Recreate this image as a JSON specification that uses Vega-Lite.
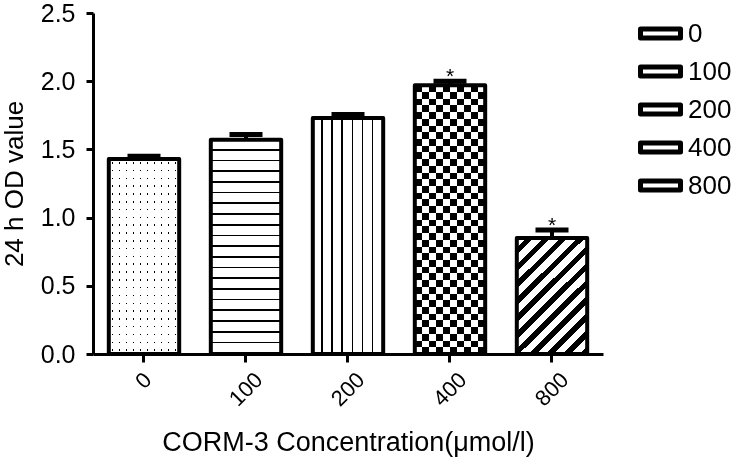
{
  "$schema": "https://vega.github.io/schema/vega-lite/v6.json",
  "autosize": {"type": "none"},
  "padding": {"left": 93, "top": 13, "right": 132, "bottom": 115},
  "width": 510,
  "height": 341,
  "background": "white",
  "config": {
    "font": "Liberation Sans",
    "view": {"stroke": null},
    "axis": {
      "domainColor": "black", "domainWidth": 3, "tickColor": "black", "tickWidth": 3, "tickSize": 8,
      "labelColor": "black", "labelFont": "Liberation Sans",
      "titleColor": "black", "titleFontSize": 26, "titleFontWeight": "normal", "titleFont": "Liberation Sans",
      "grid": false
    }
  },
  "data": {
    "values": [
      {"conc": "0", "value": 1.43, "upper": 1.45, "sig": ""},
      {"conc": "100", "value": 1.57, "upper": 1.61, "sig": ""},
      {"conc": "200", "value": 1.73, "upper": 1.755, "sig": ""},
      {"conc": "400", "value": 1.97, "upper": 2.0, "sig": "*"},
      {"conc": "800", "value": 0.85, "upper": 0.91, "sig": "*"}
    ]
  },
  "encoding": {
    "x": {
      "field": "conc", "type": "nominal", "sort": null,
      "scale": {"paddingInner": 0.31, "paddingOuter": 0.155, "align": 0.5},
      "axis": {"title": "CORM-3 Concentration(μmol/l)", "titleFontSize": 27, "labelAngle": -45, "labelFontSize": 22,
        "labelAlign": "right", "labelBaseline": "middle", "labelPadding": 14,
        "labelOffset": {"condition": {"test": "datum.value === '0'", "value": 4}, "value": 13},
        "titlePadding": 20}
    },
    "y": {"field": "value", "type": "quantitative", "scale": {"domain": [0, 2.5], "nice": false},
      "axis": {"title": "24 h OD value", "values": [0, 0.5, 1, 1.5, 2, 2.5], "format": ".1f", "labelFontSize": 25, "tickSize": 7, "labelPadding": 11, "titlePadding": 13}}
  },
  "layer": [
    {
      "mark": {"type": "bar", "strokeWidth": 0},
      "encoding": {
        "fill": {
          "field": "conc", "type": "nominal", "sort": null,
          "scale": {"domain": ["0", "100", "200", "400", "800"], "range": ["white", "white", "white", "white", "white"]},
          "legend": {
            "title": null, "orient": "none", "legendX": 545, "legendY": -2, "padding": 0,
            "symbolType": "M-1,-0.22H1V0.22H-1Z", "symbolSize": 1600,
            "labelFontSize": 26, "labelColor": "black", "labelFont": "Liberation Sans", "labelOffset": 5, "rowPadding": 2,
            "encode": {"symbols": {"update": {
              "stroke": {"value": "black"}, "strokeWidth": {"value": 5}, "strokeJoin": {"value": "round"}, "opacity": {"value": 1}
            }}}
          }
        }
      }
    },
    {
      "transform": [{"filter": "datum.conc === '0'"}],
      "mark": {"type": "bar", "strokeWidth": 0, "fill": {"gradient": "linear", "x1": 0, "y1": 0, "x2": 1, "y2": 0, "stops": [
        {"offset": 0, "color": "white"}, {"offset": 0.04, "color": "white"}, {"offset": 0.04, "color": "black"}, {"offset": 0.06, "color": "black"}, {"offset": 0.06, "color": "white"},
        {"offset": 0.14, "color": "white"}, {"offset": 0.14, "color": "black"}, {"offset": 0.16, "color": "black"}, {"offset": 0.16, "color": "white"},
        {"offset": 0.24, "color": "white"}, {"offset": 0.24, "color": "black"}, {"offset": 0.26, "color": "black"}, {"offset": 0.26, "color": "white"},
        {"offset": 0.34, "color": "white"}, {"offset": 0.34, "color": "black"}, {"offset": 0.36, "color": "black"}, {"offset": 0.36, "color": "white"},
        {"offset": 0.44, "color": "white"}, {"offset": 0.44, "color": "black"}, {"offset": 0.46, "color": "black"}, {"offset": 0.46, "color": "white"},
        {"offset": 0.54, "color": "white"}, {"offset": 0.54, "color": "black"}, {"offset": 0.56, "color": "black"}, {"offset": 0.56, "color": "white"},
        {"offset": 0.64, "color": "white"}, {"offset": 0.64, "color": "black"}, {"offset": 0.66, "color": "black"}, {"offset": 0.66, "color": "white"},
        {"offset": 0.74, "color": "white"}, {"offset": 0.74, "color": "black"}, {"offset": 0.76, "color": "black"}, {"offset": 0.76, "color": "white"},
        {"offset": 0.84, "color": "white"}, {"offset": 0.84, "color": "black"}, {"offset": 0.86, "color": "black"}, {"offset": 0.86, "color": "white"},
        {"offset": 0.94, "color": "white"}, {"offset": 0.94, "color": "black"}, {"offset": 0.96, "color": "black"}, {"offset": 0.96, "color": "white"},
        {"offset": 1, "color": "white"}
      ]}}
    },
    {
      "transform": [{"filter": "datum.conc === '100'"}],
      "mark": {"type": "bar", "strokeWidth": 0, "fill": {"gradient": "linear", "x1": 0, "y1": 0, "x2": 0, "y2": 1, "stops": [
        {"offset": 0, "color": "white"}, {"offset": 0.042, "color": "white"}, {"offset": 0.042, "color": "black"}, {"offset": 0.05, "color": "black"}, {"offset": 0.05, "color": "white"},
        {"offset": 0.092, "color": "white"}, {"offset": 0.092, "color": "black"}, {"offset": 0.1, "color": "black"}, {"offset": 0.1, "color": "white"},
        {"offset": 0.142, "color": "white"}, {"offset": 0.142, "color": "black"}, {"offset": 0.15, "color": "black"}, {"offset": 0.15, "color": "white"},
        {"offset": 0.192, "color": "white"}, {"offset": 0.192, "color": "black"}, {"offset": 0.2, "color": "black"}, {"offset": 0.2, "color": "white"},
        {"offset": 0.242, "color": "white"}, {"offset": 0.242, "color": "black"}, {"offset": 0.25, "color": "black"}, {"offset": 0.25, "color": "white"},
        {"offset": 0.292, "color": "white"}, {"offset": 0.292, "color": "black"}, {"offset": 0.3, "color": "black"}, {"offset": 0.3, "color": "white"},
        {"offset": 0.342, "color": "white"}, {"offset": 0.342, "color": "black"}, {"offset": 0.35, "color": "black"}, {"offset": 0.35, "color": "white"},
        {"offset": 0.392, "color": "white"}, {"offset": 0.392, "color": "black"}, {"offset": 0.4, "color": "black"}, {"offset": 0.4, "color": "white"},
        {"offset": 0.442, "color": "white"}, {"offset": 0.442, "color": "black"}, {"offset": 0.45, "color": "black"}, {"offset": 0.45, "color": "white"},
        {"offset": 0.492, "color": "white"}, {"offset": 0.492, "color": "black"}, {"offset": 0.5, "color": "black"}, {"offset": 0.5, "color": "white"},
        {"offset": 0.542, "color": "white"}, {"offset": 0.542, "color": "black"}, {"offset": 0.55, "color": "black"}, {"offset": 0.55, "color": "white"},
        {"offset": 0.592, "color": "white"}, {"offset": 0.592, "color": "black"}, {"offset": 0.6, "color": "black"}, {"offset": 0.6, "color": "white"},
        {"offset": 0.642, "color": "white"}, {"offset": 0.642, "color": "black"}, {"offset": 0.65, "color": "black"}, {"offset": 0.65, "color": "white"},
        {"offset": 0.692, "color": "white"}, {"offset": 0.692, "color": "black"}, {"offset": 0.7, "color": "black"}, {"offset": 0.7, "color": "white"},
        {"offset": 0.742, "color": "white"}, {"offset": 0.742, "color": "black"}, {"offset": 0.75, "color": "black"}, {"offset": 0.75, "color": "white"},
        {"offset": 0.792, "color": "white"}, {"offset": 0.792, "color": "black"}, {"offset": 0.8, "color": "black"}, {"offset": 0.8, "color": "white"},
        {"offset": 0.842, "color": "white"}, {"offset": 0.842, "color": "black"}, {"offset": 0.85, "color": "black"}, {"offset": 0.85, "color": "white"},
        {"offset": 0.892, "color": "white"}, {"offset": 0.892, "color": "black"}, {"offset": 0.9, "color": "black"}, {"offset": 0.9, "color": "white"},
        {"offset": 0.942, "color": "white"}, {"offset": 0.942, "color": "black"}, {"offset": 0.95, "color": "black"}, {"offset": 0.95, "color": "white"},
        {"offset": 0.992, "color": "white"}, {"offset": 0.992, "color": "black"}, {"offset": 1, "color": "black"}
      ]}}
    },
    {
      "transform": [{"filter": "datum.conc === '200'"}],
      "mark": {"type": "bar", "strokeWidth": 0, "fill": {"gradient": "linear", "x1": 0, "y1": 0, "x2": 1, "y2": 0, "stops": [
        {"offset": 0, "color": "white"}, {"offset": 0.1214, "color": "white"}, {"offset": 0.1214, "color": "black"}, {"offset": 0.1429, "color": "black"}, {"offset": 0.1429, "color": "white"},
        {"offset": 0.2643, "color": "white"}, {"offset": 0.2643, "color": "black"}, {"offset": 0.2857, "color": "black"}, {"offset": 0.2857, "color": "white"},
        {"offset": 0.4071, "color": "white"}, {"offset": 0.4071, "color": "black"}, {"offset": 0.4286, "color": "black"}, {"offset": 0.4286, "color": "white"},
        {"offset": 0.55, "color": "white"}, {"offset": 0.55, "color": "black"}, {"offset": 0.5714, "color": "black"}, {"offset": 0.5714, "color": "white"},
        {"offset": 0.6929, "color": "white"}, {"offset": 0.6929, "color": "black"}, {"offset": 0.7143, "color": "black"}, {"offset": 0.7143, "color": "white"},
        {"offset": 0.8357, "color": "white"}, {"offset": 0.8357, "color": "black"}, {"offset": 0.8571, "color": "black"}, {"offset": 0.8571, "color": "white"},
        {"offset": 0.9786, "color": "white"}, {"offset": 0.9786, "color": "black"}, {"offset": 1, "color": "black"}
      ]}}
    },
    {
      "transform": [{"filter": "datum.conc === '400'"}],
      "mark": {"type": "bar", "strokeWidth": 0, "fill": {"gradient": "linear", "x1": 0, "y1": 0, "x2": 1, "y2": 0, "stops": [
        {"offset": 0, "color": "black"}, {"offset": 0.1, "color": "black"}, {"offset": 0.1, "color": "white"}, {"offset": 0.2, "color": "white"},
        {"offset": 0.2, "color": "black"}, {"offset": 0.3, "color": "black"}, {"offset": 0.3, "color": "white"}, {"offset": 0.4, "color": "white"},
        {"offset": 0.4, "color": "black"}, {"offset": 0.5, "color": "black"}, {"offset": 0.5, "color": "white"}, {"offset": 0.6, "color": "white"},
        {"offset": 0.6, "color": "black"}, {"offset": 0.7, "color": "black"}, {"offset": 0.7, "color": "white"}, {"offset": 0.8, "color": "white"},
        {"offset": 0.8, "color": "black"}, {"offset": 0.9, "color": "black"}, {"offset": 0.9, "color": "white"}, {"offset": 1, "color": "white"}
      ]}}
    },
    {
      "transform": [{"filter": "datum.conc === '800'"}],
      "mark": {"type": "bar", "strokeWidth": 0, "fill": {"gradient": "linear", "x1": 0, "y1": 0, "x2": 0.706, "y2": 1.176, "stops": [
        {"offset": 0, "color": "white"}, {"offset": 0.05, "color": "white"}, {"offset": 0.05, "color": "black"}, {"offset": 0.0909, "color": "black"}, {"offset": 0.0909, "color": "white"},
        {"offset": 0.1409, "color": "white"}, {"offset": 0.1409, "color": "black"}, {"offset": 0.1818, "color": "black"}, {"offset": 0.1818, "color": "white"},
        {"offset": 0.2318, "color": "white"}, {"offset": 0.2318, "color": "black"}, {"offset": 0.2727, "color": "black"}, {"offset": 0.2727, "color": "white"},
        {"offset": 0.3227, "color": "white"}, {"offset": 0.3227, "color": "black"}, {"offset": 0.3636, "color": "black"}, {"offset": 0.3636, "color": "white"},
        {"offset": 0.4136, "color": "white"}, {"offset": 0.4136, "color": "black"}, {"offset": 0.4545, "color": "black"}, {"offset": 0.4545, "color": "white"},
        {"offset": 0.5045, "color": "white"}, {"offset": 0.5045, "color": "black"}, {"offset": 0.5455, "color": "black"}, {"offset": 0.5455, "color": "white"},
        {"offset": 0.5955, "color": "white"}, {"offset": 0.5955, "color": "black"}, {"offset": 0.6364, "color": "black"}, {"offset": 0.6364, "color": "white"},
        {"offset": 0.6864, "color": "white"}, {"offset": 0.6864, "color": "black"}, {"offset": 0.7273, "color": "black"}, {"offset": 0.7273, "color": "white"},
        {"offset": 0.7773, "color": "white"}, {"offset": 0.7773, "color": "black"}, {"offset": 0.8182, "color": "black"}, {"offset": 0.8182, "color": "white"},
        {"offset": 0.8682, "color": "white"}, {"offset": 0.8682, "color": "black"}, {"offset": 0.9091, "color": "black"}, {"offset": 0.9091, "color": "white"},
        {"offset": 0.9591, "color": "white"}, {"offset": 0.9591, "color": "black"}, {"offset": 1, "color": "black"}
      ]}}
    },
    {
      "transform": [{"filter": "datum.conc === '0'"}],
      "mark": {"type": "bar", "strokeWidth": 0, "blend": "lighten", "fill": {"gradient": "linear", "x1": 0, "y1": 0, "x2": 0, "y2": 1, "stops": [
        {"offset": 0, "color": "white"}, {"offset": 0.016, "color": "white"}, {"offset": 0.016, "color": "black"}, {"offset": 0.024, "color": "black"}, {"offset": 0.024, "color": "white"},
        {"offset": 0.056, "color": "white"}, {"offset": 0.056, "color": "black"}, {"offset": 0.064, "color": "black"}, {"offset": 0.064, "color": "white"},
        {"offset": 0.096, "color": "white"}, {"offset": 0.096, "color": "black"}, {"offset": 0.104, "color": "black"}, {"offset": 0.104, "color": "white"},
        {"offset": 0.136, "color": "white"}, {"offset": 0.136, "color": "black"}, {"offset": 0.144, "color": "black"}, {"offset": 0.144, "color": "white"},
        {"offset": 0.176, "color": "white"}, {"offset": 0.176, "color": "black"}, {"offset": 0.184, "color": "black"}, {"offset": 0.184, "color": "white"},
        {"offset": 0.216, "color": "white"}, {"offset": 0.216, "color": "black"}, {"offset": 0.224, "color": "black"}, {"offset": 0.224, "color": "white"},
        {"offset": 0.256, "color": "white"}, {"offset": 0.256, "color": "black"}, {"offset": 0.264, "color": "black"}, {"offset": 0.264, "color": "white"},
        {"offset": 0.296, "color": "white"}, {"offset": 0.296, "color": "black"}, {"offset": 0.304, "color": "black"}, {"offset": 0.304, "color": "white"},
        {"offset": 0.336, "color": "white"}, {"offset": 0.336, "color": "black"}, {"offset": 0.344, "color": "black"}, {"offset": 0.344, "color": "white"},
        {"offset": 0.376, "color": "white"}, {"offset": 0.376, "color": "black"}, {"offset": 0.384, "color": "black"}, {"offset": 0.384, "color": "white"},
        {"offset": 0.416, "color": "white"}, {"offset": 0.416, "color": "black"}, {"offset": 0.424, "color": "black"}, {"offset": 0.424, "color": "white"},
        {"offset": 0.456, "color": "white"}, {"offset": 0.456, "color": "black"}, {"offset": 0.464, "color": "black"}, {"offset": 0.464, "color": "white"},
        {"offset": 0.496, "color": "white"}, {"offset": 0.496, "color": "black"}, {"offset": 0.504, "color": "black"}, {"offset": 0.504, "color": "white"},
        {"offset": 0.536, "color": "white"}, {"offset": 0.536, "color": "black"}, {"offset": 0.544, "color": "black"}, {"offset": 0.544, "color": "white"},
        {"offset": 0.576, "color": "white"}, {"offset": 0.576, "color": "black"}, {"offset": 0.584, "color": "black"}, {"offset": 0.584, "color": "white"},
        {"offset": 0.616, "color": "white"}, {"offset": 0.616, "color": "black"}, {"offset": 0.624, "color": "black"}, {"offset": 0.624, "color": "white"},
        {"offset": 0.656, "color": "white"}, {"offset": 0.656, "color": "black"}, {"offset": 0.664, "color": "black"}, {"offset": 0.664, "color": "white"},
        {"offset": 0.696, "color": "white"}, {"offset": 0.696, "color": "black"}, {"offset": 0.704, "color": "black"}, {"offset": 0.704, "color": "white"},
        {"offset": 0.736, "color": "white"}, {"offset": 0.736, "color": "black"}, {"offset": 0.744, "color": "black"}, {"offset": 0.744, "color": "white"},
        {"offset": 0.776, "color": "white"}, {"offset": 0.776, "color": "black"}, {"offset": 0.784, "color": "black"}, {"offset": 0.784, "color": "white"},
        {"offset": 0.816, "color": "white"}, {"offset": 0.816, "color": "black"}, {"offset": 0.824, "color": "black"}, {"offset": 0.824, "color": "white"},
        {"offset": 0.856, "color": "white"}, {"offset": 0.856, "color": "black"}, {"offset": 0.864, "color": "black"}, {"offset": 0.864, "color": "white"},
        {"offset": 0.896, "color": "white"}, {"offset": 0.896, "color": "black"}, {"offset": 0.904, "color": "black"}, {"offset": 0.904, "color": "white"},
        {"offset": 0.936, "color": "white"}, {"offset": 0.936, "color": "black"}, {"offset": 0.944, "color": "black"}, {"offset": 0.944, "color": "white"},
        {"offset": 0.976, "color": "white"}, {"offset": 0.976, "color": "black"}, {"offset": 0.984, "color": "black"}, {"offset": 0.984, "color": "white"},
        {"offset": 1, "color": "white"}
      ]}}
    },
    {
      "transform": [{"filter": "datum.conc === '400'"}],
      "mark": {"type": "bar", "strokeWidth": 0, "blend": "difference", "fill": {"gradient": "linear", "x1": 0, "y1": 0, "x2": 0, "y2": 1, "stops": [
        {"offset": 0, "color": "black"}, {"offset": 0.025, "color": "black"}, {"offset": 0.025, "color": "white"}, {"offset": 0.05, "color": "white"},
        {"offset": 0.05, "color": "black"}, {"offset": 0.075, "color": "black"}, {"offset": 0.075, "color": "white"}, {"offset": 0.1, "color": "white"},
        {"offset": 0.1, "color": "black"}, {"offset": 0.125, "color": "black"}, {"offset": 0.125, "color": "white"}, {"offset": 0.15, "color": "white"},
        {"offset": 0.15, "color": "black"}, {"offset": 0.175, "color": "black"}, {"offset": 0.175, "color": "white"}, {"offset": 0.2, "color": "white"},
        {"offset": 0.2, "color": "black"}, {"offset": 0.225, "color": "black"}, {"offset": 0.225, "color": "white"}, {"offset": 0.25, "color": "white"},
        {"offset": 0.25, "color": "black"}, {"offset": 0.275, "color": "black"}, {"offset": 0.275, "color": "white"}, {"offset": 0.3, "color": "white"},
        {"offset": 0.3, "color": "black"}, {"offset": 0.325, "color": "black"}, {"offset": 0.325, "color": "white"}, {"offset": 0.35, "color": "white"},
        {"offset": 0.35, "color": "black"}, {"offset": 0.375, "color": "black"}, {"offset": 0.375, "color": "white"}, {"offset": 0.4, "color": "white"},
        {"offset": 0.4, "color": "black"}, {"offset": 0.425, "color": "black"}, {"offset": 0.425, "color": "white"}, {"offset": 0.45, "color": "white"},
        {"offset": 0.45, "color": "black"}, {"offset": 0.475, "color": "black"}, {"offset": 0.475, "color": "white"}, {"offset": 0.5, "color": "white"},
        {"offset": 0.5, "color": "black"}, {"offset": 0.525, "color": "black"}, {"offset": 0.525, "color": "white"}, {"offset": 0.55, "color": "white"},
        {"offset": 0.55, "color": "black"}, {"offset": 0.575, "color": "black"}, {"offset": 0.575, "color": "white"}, {"offset": 0.6, "color": "white"},
        {"offset": 0.6, "color": "black"}, {"offset": 0.625, "color": "black"}, {"offset": 0.625, "color": "white"}, {"offset": 0.65, "color": "white"},
        {"offset": 0.65, "color": "black"}, {"offset": 0.675, "color": "black"}, {"offset": 0.675, "color": "white"}, {"offset": 0.7, "color": "white"},
        {"offset": 0.7, "color": "black"}, {"offset": 0.725, "color": "black"}, {"offset": 0.725, "color": "white"}, {"offset": 0.75, "color": "white"},
        {"offset": 0.75, "color": "black"}, {"offset": 0.775, "color": "black"}, {"offset": 0.775, "color": "white"}, {"offset": 0.8, "color": "white"},
        {"offset": 0.8, "color": "black"}, {"offset": 0.825, "color": "black"}, {"offset": 0.825, "color": "white"}, {"offset": 0.85, "color": "white"},
        {"offset": 0.85, "color": "black"}, {"offset": 0.875, "color": "black"}, {"offset": 0.875, "color": "white"}, {"offset": 0.9, "color": "white"},
        {"offset": 0.9, "color": "black"}, {"offset": 0.925, "color": "black"}, {"offset": 0.925, "color": "white"}, {"offset": 0.95, "color": "white"},
        {"offset": 0.95, "color": "black"}, {"offset": 0.975, "color": "black"}, {"offset": 0.975, "color": "white"}, {"offset": 1, "color": "white"}
      ]}}
    },
    {
      "mark": {"type": "bar", "fillOpacity": 0, "stroke": "black", "strokeWidth": 4, "strokeJoin": "round"}
    },
    {
      "mark": {"type": "rule", "color": "black", "strokeWidth": 4, "opacity": 1},
      "encoding": {"y2": {"field": "upper"}}
    },
    {
      "mark": {"type": "tick", "color": "black", "size": 33, "thickness": 5, "orient": "horizontal", "opacity": 1},
      "encoding": {"y": {"field": "upper", "type": "quantitative"}}
    },
    {
      "transform": [{"filter": "datum.sig !== ''"}],
      "mark": {"type": "text", "fontSize": 21, "color": "black", "baseline": "alphabetic", "dy": 2, "opacity": 1},
      "encoding": {"y": {"field": "upper", "type": "quantitative"}, "text": {"field": "sig"}}
    }
  ]
}
